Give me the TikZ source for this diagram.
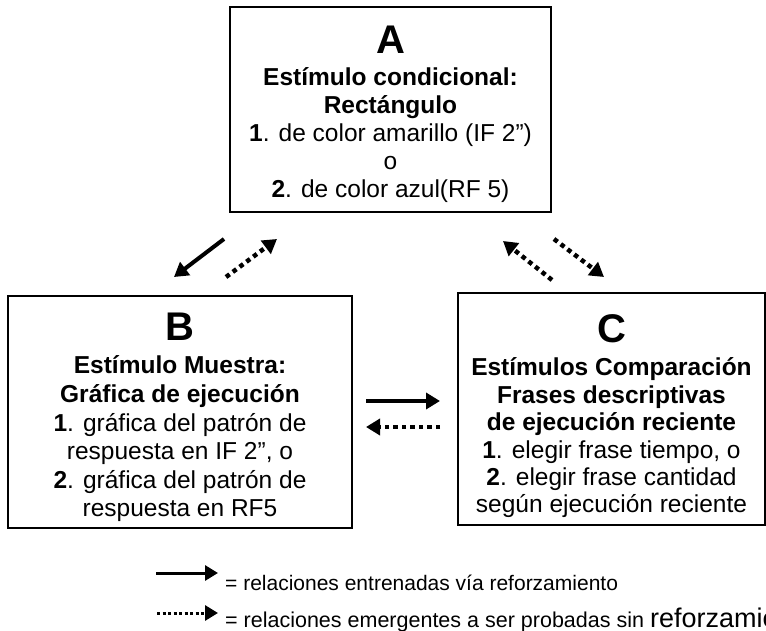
\documentclass[tikz,border=0pt]{standalone}
\usepackage{fontspec}
\setmainfont{Liberation Sans}
\usetikzlibrary{arrows.meta}

\tikzset{
  box/.style={draw, line width=2.5pt, align=center, inner sep=0pt},
  trained/.style={line width=4pt, -{Triangle[length=14pt,width=16pt]}},
  emergent/.style={line width=4.5pt, dash pattern=on 4.5pt off 4pt,
    -{Triangle[length=14pt,width=16pt]}},
  legend/.style={anchor=base west, inner sep=0pt},
}
\newcommand{\letra}[2]{\rule{0pt}{#2pt}{\fontsize{40}{40}\selectfont\bfseries #1}}

\begin{document}
\begin{tikzpicture}[x=1pt, y=-1pt]
\useasboundingbox (0,0) rectangle (766,631);

\node[box, minimum width=321pt, minimum height=205pt,
      font=\fontsize{24.5}{28}\selectfont] (A) at (390.5,109.5)
  {\letra{A}{37.5}\\[4.5pt]
   \textbf{Estímulo condicional:}\\
   \textbf{Rectángulo}\\
   \textbf{1}. de color amarillo (IF 2”)\\
   o\\
   \textbf{2}. de color azul(RF 5)}; %conditional stimulus
\node[box, minimum width=344pt, minimum height=232pt,
      font=\fontsize{24.5}{28.6}\selectfont] (B) at (180,412)
  {\letra{B}{39}\\[4.4pt]
   \textbf{Estímulo Muestra:}\\
   \textbf{Gráfica de ejecución}\\
   \textbf{1}. gráfica del patrón de\\
   respuesta en IF 2”, o\\
   \textbf{2}. gráfica del patrón de\\
   respuesta en RF5}; %sample
\node[box, minimum width=307pt, minimum height=232pt,
      font=\fontsize{24.5}{27.4}\selectfont] (C) at (611.5,409)
  {\letra{C}{42.5}\\[6pt]
   \textbf{Estímulos Comparación}\\
   \textbf{Frases descriptivas}\\
   \textbf{de ejecución reciente}\\
   \textbf{1}. elegir frase tiempo, o\\
   \textbf{2}. elegir frase cantidad\\
   según ejecución reciente}; %comparison

% arrow ends
\coordinate (ab1) at (224,239);  \coordinate (ab2) at (174,277);
\coordinate (ba1) at (226,277);  \coordinate (ba2) at (277,239);
\coordinate (ca1) at (552,280);  \coordinate (ca2) at (503,241);
\coordinate (ac1) at (554,239);  \coordinate (ac2) at (604,277);
\coordinate (bc1) at (366,401);  \coordinate (bc2) at (440,401);
\coordinate (cb1) at (440,427);  \coordinate (cb2) at (366,427);

\draw[trained]  (ab1) -- (ab2); %A to B
\draw[emergent] (ba1) -- (ba2); %B to A
\draw[emergent] (ca1) -- (ca2); %C to A
\draw[emergent] (ac1) -- (ac2); %A to C
\draw[trained]  (bc1) -- (bc2); %B to C
\draw[emergent] (cb1) -- (cb2); %C to B

% legend
\coordinate (l1a) at (156,573);  \coordinate (l1b) at (218,573);
\coordinate (l2a) at (157,613);  \coordinate (l2b) at (218,613);
\draw[line width=3pt, -{Triangle[length=13pt,width=15pt]}] (l1a) -- (l1b);
\draw[line width=3pt, dash pattern=on 3pt off 2.5pt,
      -{Triangle[length=13pt,width=15pt]}] (l2a) -- (l2b);
\node[legend, font=\fontsize{21}{25}\selectfont] (leyenda1) at (225,590)
  {= relaciones entrenadas vía reforzamiento};
\node[legend, font=\fontsize{21.5}{25}\selectfont] (leyenda2) at (225,627)
  {= relaciones emergentes a ser probadas sin {\fontsize{27}{27}\selectfont reforzamiento}};
\end{tikzpicture}
\end{document}
